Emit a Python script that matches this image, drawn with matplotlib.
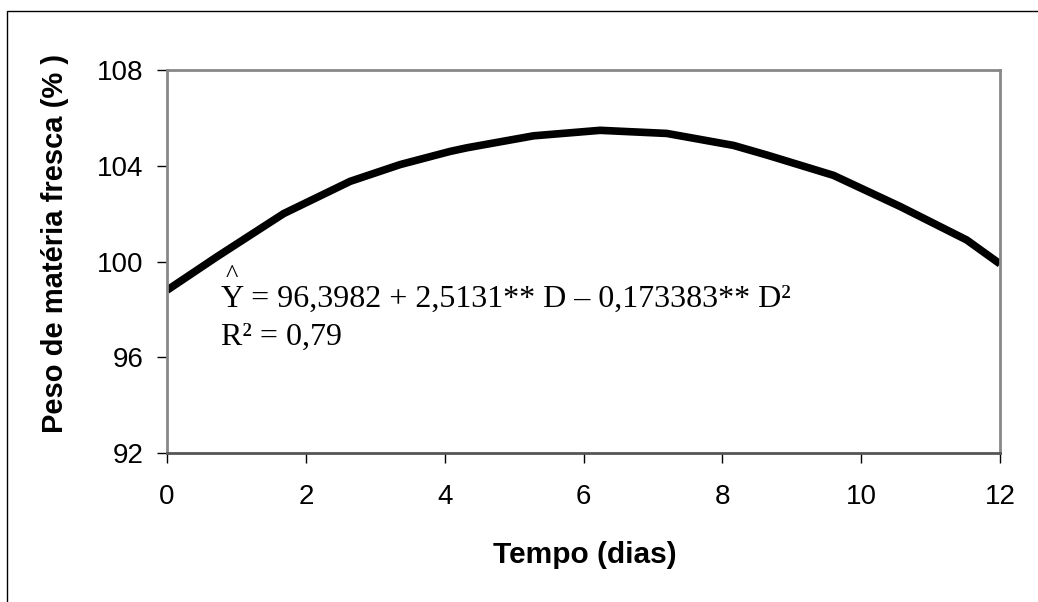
import matplotlib
matplotlib.use("Agg")
import matplotlib.pyplot as plt
from matplotlib.patches import Rectangle

# Data (points along the fitted curve)
dias = [0, 0.72, 1.68, 2.64, 3.36, 4.08, 4.32, 5.28, 6.24, 7.2, 7.68, 8.16, 8.64, 9.6, 10.56, 11.52, 12]
peso = [98.8, 100.2, 102.0, 103.35, 104.05, 104.6, 104.75, 105.25, 105.48, 105.35, 105.1,
        104.85, 104.45, 103.6, 102.3, 100.9, 99.9]
x_ticks = [0, 2, 4, 6, 8, 10, 12]
y_ticks = [92, 96, 100, 104, 108]
x_title = "Tempo (dias)"
y_title = "Peso de matéria fresca (% )"
eq_line1 = "Y = 96,3982 + 2,5131** D \u2013 0,173383** D\u00b2"
eq_line2 = "R\u00b2 = 0,79"

W, H = 1038, 602
fig = plt.figure(figsize=(W / 100, H / 100), dpi=100)
fig.patch.set_facecolor("white")

# outer frame (chart area border)
fig.add_artist(Rectangle((7 / W, -0.2), 1.5, 1.2 - 11 / H, transform=fig.transFigure,
                         fill=False, edgecolor="black", linewidth=1.0))

left, right, top, bottom = 167, 1000, 70, 453
ax = fig.add_axes([left / W, 1 - bottom / H, (right - left) / W, (bottom - top) / H])
ax.plot(dias, peso, color="black", linewidth=5.5, solid_capstyle="butt", solid_joinstyle="round")
ax.set_xlim(0, 12)
ax.set_ylim(92, 108)
ax.set_xticks(x_ticks)
ax.set_yticks(y_ticks)
ax.set_xticklabels([str(v) for v in x_ticks], fontsize=20, family="Liberation Sans")
ax.set_yticklabels([str(v) for v in y_ticks], fontsize=20, family="Liberation Sans")
ax.tick_params(axis="y", direction="out", length=7, width=1, pad=10, colors="black")
ax.tick_params(axis="x", direction="out", length=7, width=1, pad=15, colors="black")
for s in ["top", "right", "left"]:
    ax.spines[s].set_color("#888888")
    ax.spines[s].set_linewidth(2)
ax.spines["bottom"].set_color("#555555")
ax.spines["bottom"].set_linewidth(2)

fig.text(585 / W, 1 - 555 / H, x_title, ha="center", va="center", fontsize=21.5,
         fontweight="bold", family="Liberation Sans")
fig.text(55 / W, 1 - 243 / H, y_title, ha="center", va="center", rotation=90, fontsize=21,
         fontweight="bold", family="Liberation Sans")

serif = "Liberation Serif"
fig.text(221 / W, 1 - 299 / H, eq_line1, ha="left", va="center", fontsize=23, family=serif)
fig.text(226 / W, 1 - 276 / H, "^", ha="left", va="center", fontsize=19, family=serif)
fig.text(221 / W, 1 - 337 / H, eq_line2, ha="left", va="center", fontsize=23, family=serif)

fig.savefig("out.png", dpi=100, facecolor="white")
